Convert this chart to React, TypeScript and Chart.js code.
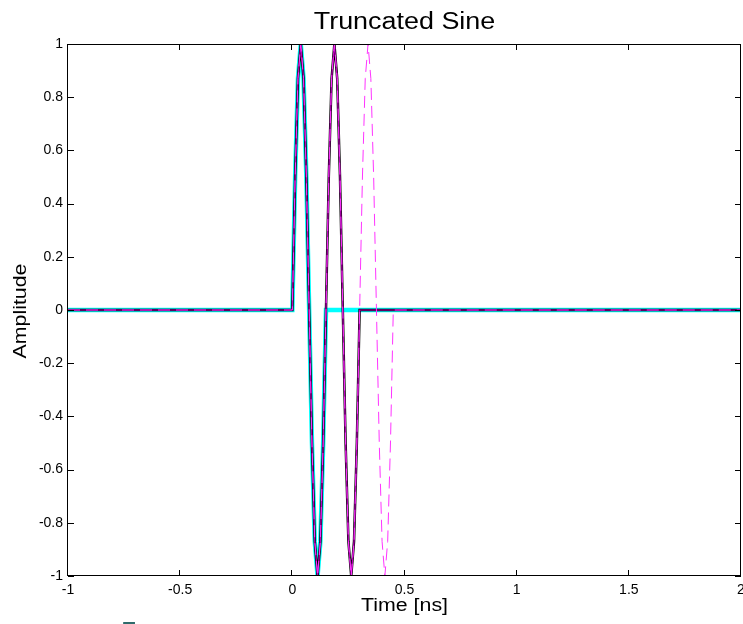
import React, { useEffect, useRef } from "react";
import { Chart, registerables } from "chart.js";

Chart.register(...registerables);

// Time samples [ns]
const timeNs = [
  -1, 0, 0.0125, 0.025, 0.0375, 0.05, 0.0625, 0.075, 0.0875, 0.1, 0.1125, 0.125, 0.1375,
  0.15, 0.1625, 0.175, 0.1875, 0.2, 0.2125, 0.225, 0.2375, 0.25, 0.2625, 0.275, 0.2875,
  0.3, 0.3125, 0.325, 0.3375, 0.35, 0.3625, 0.375, 0.3875, 0.4, 0.4125, 0.425, 0.4375,
  0.45, 2,
];

// One period truncated sine (cyan)
const sineOnePeriod = [
  0,
  0, 0.5, 0.87, 1, 0.87, 0.5, 0, -0.5, -0.87, -1, -0.87, -0.5,
  0,
  0, 0, 0, 0, 0, 0, 0, 0, 0, 0, 0, 0,
  0, 0, 0, 0, 0, 0, 0, 0, 0, 0, 0, 0,
  0,
];

// Two periods (black)
const sineTwoPeriodsBlack = [
  0,
  0, 0.5, 0.87, 1, 0.87, 0.5, 0, -0.5, -0.87, -1, -0.87, -0.5,
  0, 0.5, 0.87, 1, 0.87, 0.5, 0, -0.5, -0.87, -1, -0.87, -0.5,
  0,
  0, 0, 0, 0, 0, 0, 0, 0, 0, 0, 0, 0,
  0,
];

// Two periods (magenta solid)
const sineTwoPeriodsMagenta = [
  0,
  0, 0.5, 0.87, 1, 0.87, 0.5, 0, -0.5, -0.87, -1, -0.87, -0.5,
  0, 0.5, 0.87, 1, 0.87, 0.5, 0, -0.5, -0.87, -1, -0.87, -0.5,
  0,
  0, 0, 0, 0, 0, 0, 0, 0, 0, 0, 0, 0,
  0,
];

// Three periods (magenta dashed)
const sineThreePeriods = [
  0,
  0, 0.5, 0.87, 1, 0.87, 0.5, 0, -0.5, -0.87, -1, -0.87, -0.5,
  0, 0.5, 0.87, 1, 0.87, 0.5, 0, -0.5, -0.87, -1, -0.87, -0.5,
  0, 0.5, 0.87, 1, 0.87, 0.5, 0, -0.5, -0.87, -1, -0.87, -0.5,
  0,
  0,
];

const titleText = "Truncated Sine";
const xTitle = "Time [ns]";
const yTitle = "Amplitude";

const FONT = '"Liberation Sans", Arial, Helvetica, sans-serif';

function pts(ys: number[]) {
  return timeNs.map((x, i) => ({ x, y: ys[i] }));
}

function fmt(v: number | string) {
  const n = Math.round(Number(v) * 10) / 10;
  return String(n === 0 ? 0 : n);
}

function stretchedText(
  ctx: CanvasRenderingContext2D,
  text: string,
  x: number,
  y: number,
  size: number,
  stretch: number,
  rotate: boolean,
  color = "#000"
) {
  ctx.save();
  ctx.translate(x, y);
  if (rotate) ctx.rotate(-Math.PI / 2);
  ctx.scale(stretch, 1);
  ctx.font = `${size}px ${FONT}`;
  ctx.fillStyle = color;
  ctx.textAlign = "center";
  ctx.textBaseline = "alphabetic";
  ctx.fillText(text, 0, 0);
  ctx.restore();
}

const framePlugin = {
  id: "matlabFrame",
  afterDraw(chart: any) {
    const { ctx, chartArea } = chart;
    const { left, right, top, bottom } = chartArea;
    ctx.save();
    ctx.strokeStyle = "#000";
    ctx.lineWidth = 1;
    ctx.beginPath();
    ctx.rect(Math.round(left) - 0.5, Math.round(top) + 0.5, Math.round(right) - Math.round(left), Math.round(bottom) - Math.round(top) - 1);
    ctx.stroke();
    const tl = 6;
    const xs = chart.scales.x;
    const ys = chart.scales.y;
    ctx.beginPath();
    xs.ticks.forEach((t: any) => {
      const px = Math.round(xs.getPixelForValue(t.value)) - 0.5;
      ctx.moveTo(px, bottom);
      ctx.lineTo(px, bottom - tl);
      ctx.moveTo(px, top);
      ctx.lineTo(px, top + tl);
    });
    ys.ticks.forEach((t: any) => {
      const py = Math.round(ys.getPixelForValue(t.value)) + 0.5;
      ctx.moveTo(left, py);
      ctx.lineTo(left + tl, py);
      ctx.moveTo(right, py);
      ctx.lineTo(right - tl, py);
    });
    ctx.stroke();
    ctx.restore();

    const cx = (left + right) / 2;
    stretchedText(ctx, titleText, cx, 29, 23, 1.17, false);
    stretchedText(ctx, xTitle, cx, 611, 17.5, 1.22, false);
    stretchedText(ctx, yTitle, 26, 311, 17.5, 1.22, true);
    stretchedText(ctx, "5", 129, 642, 30, 1.0, false, "#2f6b6b");
  },
};

export default function App() {
  const ref = useRef<HTMLCanvasElement>(null);

  useEffect(() => {
    if (!ref.current) return;
    const chart = new Chart(ref.current, {
      type: "scatter",
      data: {
        datasets: [
          {
            label: "3 periods",
            data: pts(sineThreePeriods),
            showLine: true,
            borderColor: "#ff33ff",
            borderWidth: 1,
            borderDash: [12, 6],
            pointRadius: 0,
          },
          {
            label: "2 periods magenta",
            data: pts(sineTwoPeriodsMagenta),
            showLine: true,
            borderColor: "#c000c0",
            borderWidth: 1.2,
            pointRadius: 0,
          },
          {
            label: "2 periods",
            data: pts(sineTwoPeriodsBlack),
            showLine: true,
            borderColor: "#000000",
            borderWidth: 2.5,
            pointRadius: 0,
          },
          {
            label: "1 period",
            data: pts(sineOnePeriod),
            showLine: true,
            borderColor: "#00ffff",
            borderWidth: 4.5,
            pointRadius: 0,
          },
        ],
      },
      options: {
        animation: false,
        responsive: false,
        maintainAspectRatio: false,
        layout: { padding: { left: 0, right: 2, top: 44, bottom: 0 } },
        plugins: {
          legend: { display: false },
          title: { display: false },
          tooltip: { enabled: false },
        },
        scales: {
          x: {
            type: "linear",
            min: -1,
            max: 2,
            ticks: {
              stepSize: 0.5,
              color: "#000",
              font: { family: FONT, size: 14 },
              padding: 6,
              maxRotation: 0,
              autoSkip: false,
              callback: (v: any) => fmt(v),
            },
            grid: { display: true, drawOnChartArea: false, drawTicks: false, color: "rgba(0,0,0,0)" },
            border: { display: false },
            afterFit(scale: any) {
              scale.height = 48;
              scale.paddingLeft = 0;
              scale.paddingRight = 0;
            },
          },
          y: {
            type: "linear",
            min: -1,
            max: 1,
            ticks: {
              stepSize: 0.2,
              color: "#000",
              font: { family: FONT, size: 14 },
              padding: 5,
              autoSkip: false,
              callback: (v: any) => fmt(v),
            },
            grid: { display: true, drawOnChartArea: false, drawTicks: false, color: "rgba(0,0,0,0)" },
            border: { display: false },
            afterFit(scale: any) {
              scale.width = 68;
              scale.paddingTop = 0;
              scale.paddingBottom = 0;
            },
          },
        },
      },
      plugins: [framePlugin],
    });
    return () => chart.destroy();
  }, []);

  return (
    <div style={{ position: "fixed", left: 0, top: 0, width: 743, height: 624, background: "#fff" }}>
      <canvas ref={ref} width={743} height={624} />
    </div>
  );
}
